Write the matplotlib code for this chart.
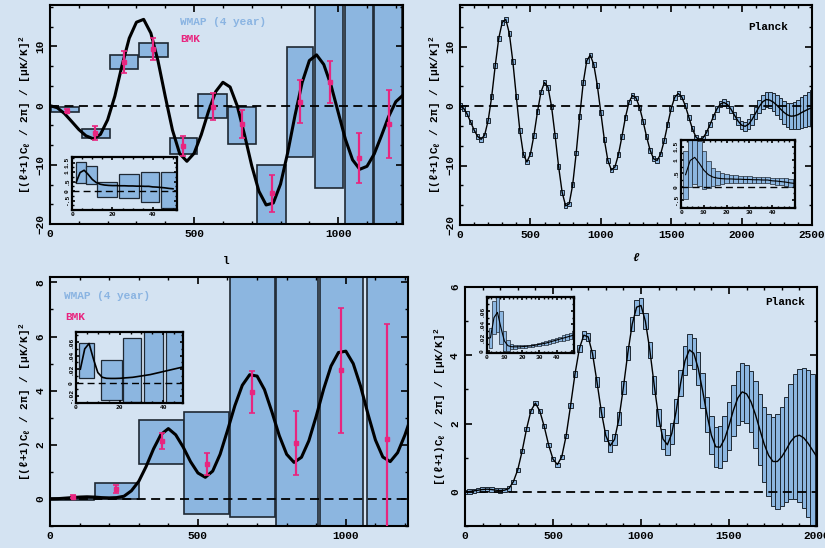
import matplotlib
matplotlib.use("Agg")

import matplotlib.pyplot as plt
from matplotlib.ticker import MultipleLocator, AutoMinorLocator
import numpy as np

BG = "#d4e3f2"
BOX = "#8cb6e0"
EDGE = "#1e2833"
PINK = "#e8257f"
WMAP_TXT = "#8ab4e2"

plt.rcParams.update({
    "font.family": ["Liberation Mono", "DejaVu Sans Mono"],
    "font.weight": "bold",
    "font.size": 8,
    "axes.linewidth": 1.5,
    "axes.labelweight": "bold",
    "xtick.direction": "in",
    "ytick.direction": "in",
    "xtick.top": True,
    "ytick.right": True,
    "xtick.major.size": 5,
    "ytick.major.size": 5,
    "xtick.minor.size": 2.5,
    "ytick.minor.size": 2.5,
    "xtick.major.width": 1.2,
    "ytick.major.width": 1.2,
    "xtick.minor.width": 1.0,
    "ytick.minor.width": 1.0,
    "mathtext.default": "regular",
})

YLABEL = "[(ℓ+1)C$_\\ell$ / 2π] / [μK/K]$^2$"

# ── model spectra (sampled every 25 in l) ────────────────────────────────
ell_te = np.arange(0, 2501, 25)
te_model = [
    0.00, -0.35, -1.32, -2.66, -4.03, -5.10, -5.59, -4.86, -2.40, 1.60,
    6.80, 11.40, 14.10, 14.58, 12.25, 7.52, 1.55, -4.13, -8.11, -9.40,
    -8.06, -4.89, -0.96, 2.37, 3.95, 3.15, -0.07, -4.91, -10.14, -14.47,
    -16.78, -16.45, -13.25, -7.91, -1.70, 3.92, 7.62, 8.58, 6.96, 3.47,
    -1.10, -5.67, -9.16, -10.75, -10.25, -8.17, -5.10, -1.86, 0.67, 1.78,
    1.36, -0.20, -2.55, -5.16, -7.43, -8.87, -9.14, -8.05, -5.83, -3.04,
    -0.37, 1.50, 2.10, 1.51, 0.06, -1.88, -3.80, -5.19, -5.70, -5.37,
    -4.46, -3.15, -1.72, -0.46, 0.37, 0.60, 0.24, -0.55, -1.57, -2.54,
    -3.21, -3.40, -3.04, -2.22, -1.15, -0.08, 0.74, 1.10, 1.00, 0.66,
    0.14, -0.47, -1.05, -1.48, -1.70, -1.65, -1.45, -1.10, -0.80, -0.50,
    -0.30,
]
te_err = [0.45, 0.45, 0.42, 0.40] + [0.40] * 57 + [
    0.40, 0.40, 0.40, 0.40, 0.40, 0.40, 0.40, 0.40, 0.41, 0.42,
    0.44, 0.45, 0.48, 0.50, 0.53, 0.55, 0.58, 0.60, 0.62, 0.65,
    0.72, 0.80, 0.88, 1.00, 1.10, 1.20, 1.30, 1.40, 1.52, 1.65,
    1.78, 1.90, 2.02, 2.15, 2.28, 2.40, 2.55, 2.70, 2.85, 3.00,
]

ell_ee = np.arange(0, 2001, 25)
ee_model = [
    0.00, 0.01, 0.03, 0.05, 0.07, 0.08, 0.07, 0.05, 0.04, 0.05,
    0.10, 0.30, 0.65, 1.20, 1.85, 2.38, 2.60, 2.37, 1.92, 1.38,
    0.96, 0.80, 1.03, 1.65, 2.53, 3.45, 4.20, 4.59, 4.54, 4.04,
    3.22, 2.34, 1.65, 1.35, 1.54, 2.15, 3.06, 4.06, 4.91, 5.41,
    5.46, 5.00, 4.16, 3.13, 2.18, 1.55, 1.38, 1.71, 2.37, 3.18,
    3.84, 4.16, 4.06, 3.62, 2.97, 2.26, 1.66, 1.32, 1.31, 1.55,
    1.94, 2.39, 2.75, 2.93, 2.87, 2.64, 2.27, 1.83, 1.40, 1.07,
    0.89, 0.89, 1.03, 1.24, 1.47, 1.62, 1.66, 1.58, 1.42, 1.22,
    1.02,
]
ee_err = [0.06] * 24 + [
    0.08, 0.09, 0.10, 0.11, 0.12, 0.13, 0.14, 0.15, 0.16, 0.17,
    0.17, 0.18, 0.19, 0.20, 0.21, 0.22, 0.22, 0.23, 0.24, 0.25,
    0.26, 0.28, 0.30, 0.32, 0.35, 0.38, 0.42, 0.45, 0.45, 0.48,
    0.50, 0.52, 0.55, 0.58, 0.62, 0.66, 0.70, 0.74, 0.80, 0.85,
    0.85, 0.90, 0.97, 1.03, 1.10, 1.20, 1.30, 1.38, 1.45, 1.55,
    1.68, 1.82, 1.95, 2.05, 2.15, 2.22, 2.30,
]

# low-l (reionisation) part of the spectra
ell_low = np.arange(2, 51, 2)
te_low = [0.45, 0.98, 1.10, 0.88, 0.62, 0.45, 0.36, 0.32, 0.30, 0.29,
          0.29, 0.28, 0.28, 0.27, 0.27, 0.26, 0.26, 0.25, 0.25, 0.22,
          0.21, 0.19, 0.17, 0.14, 0.12]
te_low_err = [0.90, 1.00, 1.00, 0.85, 0.70, 0.50, 0.35, 0.25, 0.20, 0.17,
              0.15, 0.14, 0.13, 0.13, 0.12, 0.12, 0.12, 0.12, 0.12, 0.12,
              0.13, 0.13, 0.14, 0.14, 0.15]
ee_low = [0.020, 0.050, 0.058, 0.035, 0.015, 0.008, 0.0065, 0.0063, 0.0063, 0.0065,
          0.007, 0.0075, 0.008, 0.009, 0.010, 0.011, 0.012, 0.0135, 0.015, 0.0165,
          0.018, 0.0195, 0.021, 0.0225, 0.024]
ee_low_err = [0.015, 0.025, 0.030, 0.025, 0.015, 0.008, 0.004, 0.003, 0.0025, 0.002,
              0.002, 0.002, 0.002, 0.002, 0.0022, 0.0024, 0.0026, 0.0028, 0.003, 0.0033,
              0.0036, 0.004, 0.0045, 0.005, 0.0055]

# ── WMAP 4-year band powers (boxes) ──────────────────────────────────────
wmap_te_lo = [5, 110, 208, 310, 417, 515, 617, 718, 822, 920, 1024, 1125]
wmap_te_hi = [100, 208, 307, 409, 511, 613, 715, 819, 914, 1018, 1120, 1221]
wmap_te_bottom = [-1.1, -5.4, 6.2, 8.3, -8.1, -2.1, -6.4, -21.0, -8.6, -13.9, -21.0, -21.0]
wmap_te_top = [-0.3, -3.9, 8.6, 10.6, -5.4, 1.9, -0.3, -10.0, 9.9, 18.0, 18.0, 18.0]

wmap_ee_lo = [2, 152, 301, 454, 610, 764, 912, 1070]
wmap_ee_hi = [150, 301, 453, 604, 760, 907, 1058, 1210]
wmap_ee_bottom = [-0.05, 0.0, 1.3, -0.56, -0.66, -1.5, -1.5, -1.5]
wmap_ee_top = [0.03, 0.6, 2.9, 3.2, 9.0, 9.0, 9.0, 9.0]

wmap_te_low_lo = [2, 7, 12.3, 23.2, 34, 44]
wmap_te_low_hi = [7, 12.3, 22.3, 33.2, 43.2, 53]
wmap_te_low_bottom = [0.40, 0.35, -0.30, -0.39, -0.57, -0.91]
wmap_te_low_top = [1.55, 1.35, 0.50, 0.90, 1.02, 1.02]

wmap_ee_low_lo = [1.5, 11.4, 21.4, 31, 41]
wmap_ee_low_hi = [8.3, 21, 30, 40, 49]
wmap_ee_low_bottom = [0.0065, -0.0256, -0.0281, -0.04, -0.04]
wmap_ee_low_top = [0.058, 0.0335, 0.066, 0.09, 0.09]

# ── BMK points ───────────────────────────────────────────────────────────
bmk_te_ell = [58, 156, 257, 359, 463, 564, 668, 770, 868, 972, 1073, 1175]
bmk_te = [-0.85, -4.6, 7.4, 9.5, -6.8, -0.2, -3.1, -14.8, 0.7, 4.0, -8.9, -3.1]
bmk_te_err = [0.3, 1.2, 1.8, 1.85, 1.7, 2.3, 2.3, 3.1, 3.6, 3.6, 4.2, 5.8]

bmk_ee_ell = [77, 223, 380, 532, 683, 833, 985, 1140]
bmk_ee = [0.09, 0.36, 2.13, 1.30, 3.96, 2.08, 4.76, 2.2]
bmk_ee_err = [0.05, 0.15, 0.29, 0.41, 0.78, 1.18, 2.31, 4.28]


def wmap_boxes(ax, lo, hi, bottom, top, lw=1.2):
    ax.bar(lo, np.subtract(top, bottom), width=np.subtract(hi, lo), bottom=bottom,
           align="edge", color=BOX, edgecolor=EDGE, linewidth=lw, zorder=1)


def planck_boxes(ax, ell, val, err, width, lw=0.7, line=1.0):
    val = np.asarray(val)
    err = np.asarray(err)
    ax.bar(ell, 2 * err, width=width, bottom=val - err, color=BOX,
           edgecolor=EDGE, linewidth=lw, zorder=2)
    ax.plot(ell, val, color="k", lw=line, zorder=3)


def bmk_points(ax, ell, val, err):
    ax.errorbar(ell, val, yerr=err, fmt="s", ms=2.5, color=PINK, ecolor=PINK,
                elinewidth=1.6, capsize=2, capthick=1.2, zorder=4)


def zero_line(ax, lw=1.3):
    ax.axhline(0, color="k", lw=lw, ls=(0, (5, 3)), zorder=2.5)


def style(ax, xmaj, xmin, ymaj, ymin, size=8):
    ax.set_facecolor("none")
    ax.xaxis.set_major_locator(MultipleLocator(xmaj))
    ax.xaxis.set_minor_locator(MultipleLocator(xmin))
    ax.yaxis.set_major_locator(MultipleLocator(ymaj))
    ax.yaxis.set_minor_locator(AutoMinorLocator(ymin))
    ax.tick_params(which="both", labelsize=size)
    for lbl in ax.get_yticklabels():
        lbl.set_rotation(90)
        lbl.set_va("center")


def inset(fig, rect, xlim, ylim, xticks, yticks, ylabels):
    ax = fig.add_axes(rect, zorder=10)
    ax.set_facecolor(BG)
    ax.set_xlim(*xlim)
    ax.set_ylim(*ylim)
    ax.set_xticks(xticks)
    ax.set_yticks(yticks)
    ax.set_yticklabels(ylabels)
    ax.xaxis.set_minor_locator(AutoMinorLocator(4))
    ax.yaxis.set_minor_locator(AutoMinorLocator(2))
    ax.tick_params(which="both", labelsize=4.5, pad=1.5, length=2.5)
    ax.tick_params(which="minor", length=1.5)
    for lbl in ax.get_yticklabels():
        lbl.set_rotation(90)
        lbl.set_va("center")
    for s in ax.spines.values():
        s.set_linewidth(1.6)
    return ax


fig = plt.figure(figsize=(8.25, 5.48), dpi=100, facecolor=BG)

# ── TE: WMAP + BMK ───────────────────────────────────────────────────────
ax1 = fig.add_axes([0.0606, 0.5912, 0.4279, 0.3996])
wmap_boxes(ax1, wmap_te_lo, wmap_te_hi, wmap_te_bottom, wmap_te_top)
ax1.plot(ell_te, te_model, color="k", lw=2.2, zorder=3)
zero_line(ax1)
bmk_points(ax1, bmk_te_ell, bmk_te, bmk_te_err)
ax1.set_xlim(0, 1225)
ax1.set_ylim(-20, 17)
style(ax1, 500, 100, 10, 3)
ax1.set_ylabel(YLABEL, labelpad=2)
ax1.set_xlabel("l", labelpad=12)
ax1.text(0.368, 0.922, "WMAP (4 year)", color=WMAP_TXT, transform=ax1.transAxes,
         va="center", fontsize=8)
ax1.text(0.368, 0.845, "BMK", color=PINK, transform=ax1.transAxes,
         va="center", fontsize=8)

in1 = inset(fig, [0.0873, 0.6168, 0.1273, 0.0967], (0, 52), (-1, 1.8),
            [0, 20, 40], [-0.5, 0, 0.5, 1, 1.5], ["-.5", "0", ".5", "1", "1.5"])
wmap_boxes(in1, wmap_te_low_lo, wmap_te_low_hi, wmap_te_low_bottom, wmap_te_low_top, lw=0.9)
in1.plot(ell_low, te_low, color="k", lw=1.2, zorder=3)
zero_line(in1, lw=1.0)

# ── TE: Planck forecast ──────────────────────────────────────────────────
ax2 = fig.add_axes([0.5576, 0.5894, 0.4267, 0.4015])
planck_boxes(ax2, ell_te, te_model, te_err, 25)
zero_line(ax2)
ax2.set_xlim(0, 2500)
ax2.set_ylim(-20, 17)
style(ax2, 500, 100, 10, 3)
ax2.set_ylabel(YLABEL, labelpad=2)
ax2.set_xlabel("ℓ", labelpad=10, style="italic")
ax2.text(0.932, 0.9, "Planck", transform=ax2.transAxes, ha="right", va="center",
         fontsize=8)

in2 = inset(fig, [0.8255, 0.6204, 0.1382, 0.1241], (0, 50), (-0.8, 1.75),
            [0, 10, 20, 30, 40], [-0.5, 0, 0.5, 1, 1.5], ["-.5", "0", ".5", "1", "1.5"])
planck_boxes(in2, ell_low, te_low, te_low_err, 2, lw=0.5, line=0.8)
zero_line(in2, lw=1.0)

# ── EE: WMAP + BMK ───────────────────────────────────────────────────────
ax3 = fig.add_axes([0.0606, 0.0401, 0.4339, 0.4544])
wmap_boxes(ax3, wmap_ee_lo, wmap_ee_hi, wmap_ee_bottom, wmap_ee_top)
ax3.plot(ell_ee, ee_model, color="k", lw=2.2, zorder=3)
zero_line(ax3)
bmk_points(ax3, bmk_ee_ell, bmk_ee, bmk_ee_err)
ax3.set_xlim(0, 1210)
ax3.set_ylim(-1, 8.2)
style(ax3, 500, 100, 2, 2)
ax3.set_ylabel(YLABEL, labelpad=2)
ax3.text(0.039, 0.924, "WMAP (4 year)", color=WMAP_TXT, transform=ax3.transAxes,
         va="center", fontsize=8)
ax3.text(0.042, 0.839, "BMK", color=PINK, transform=ax3.transAxes,
         va="center", fontsize=8)

in3 = inset(fig, [0.0921, 0.2646, 0.1297, 0.1296], (0, 49), (-0.03, 0.075),
            [0, 20, 40], [-0.02, 0, 0.02, 0.04, 0.06], ["-.02", "0", ".02", ".04", ".06"])
wmap_boxes(in3, wmap_ee_low_lo, wmap_ee_low_hi, wmap_ee_low_bottom, wmap_ee_low_top, lw=0.9)
in3.plot(ell_low, ee_low, color="k", lw=1.2, zorder=3)
zero_line(in3, lw=1.0)

# ── EE: Planck forecast ──────────────────────────────────────────────────
ax4 = fig.add_axes([0.5636, 0.0401, 0.4267, 0.4361])
planck_boxes(ax4, ell_ee, ee_model, ee_err, 25)
zero_line(ax4)
ax4.set_xlim(0, 2000)
ax4.set_ylim(-1, 6)
style(ax4, 500, 100, 2, 2)
ax4.set_ylabel(YLABEL, labelpad=2)
ax4.text(0.966, 0.937, "Planck", transform=ax4.transAxes, ha="right", va="center",
         fontsize=8)

in4 = inset(fig, [0.5903, 0.3558, 0.1055, 0.1022], (0, 50), (-0.003, 0.081),
            [0, 10, 20, 30, 40], [0, 0.02, 0.04, 0.06], ["0", ".02", ".04", ".06"])
planck_boxes(in4, ell_low, ee_low, ee_low_err, 2, lw=0.5, line=0.8)

fig.savefig("out.png", dpi=100, facecolor=BG)
